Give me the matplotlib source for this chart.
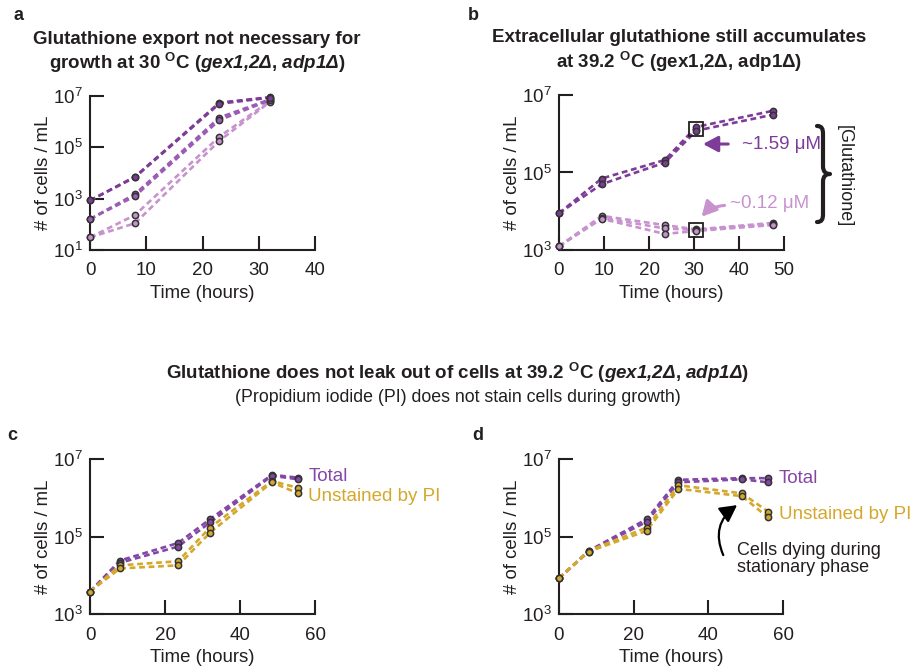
import matplotlib
matplotlib.use("Agg")
import matplotlib.pyplot as plt
import numpy as np
from matplotlib.ticker import NullLocator
from matplotlib.path import Path
from matplotlib.patches import PathPatch

plt.rcParams["font.family"] = ["Liberation Sans", "DejaVu Sans"]
plt.rcParams["mathtext.fontset"] = "custom"
plt.rcParams["mathtext.rm"] = "Liberation Sans"
plt.rcParams["mathtext.it"] = "Liberation Sans:italic"
plt.rcParams["mathtext.bf"] = "Liberation Sans:bold"
plt.rcParams["mathtext.bfit"] = "Liberation Sans:italic:bold"
plt.rcParams["mathtext.default"] = "regular"

INK = "#231f20"
DARK = "#7d3c98"
MID = "#9a5db3"
LIGHT = "#c892cf"
TOTAL = "#8447a6"
GOLD = "#d4a82c"

# panel a: growth at 30 C, three starting densities, two replicates each
time_a = [0, 8, 23, 32]
a_dark = [[850, 7200, 5.5e6, 9.0e6], [850, 6800, 5.0e6, 8.6e6]]
a_mid = [[160, 1500, 1.45e6, 7.4e6], [160, 1250, 1.15e6, 6.9e6]]
a_light = [[31, 230, 2.6e5, 6.4e6], [31, 110, 1.8e5, 5.9e6]]

# panel b: growth at 39.2 C, high and low starting density
time_b = [0, 9.5, 23.5, 30.5, 47.5]
b_high = [[8900, 7.0e4, 2.1e5, 1.5e6, 3.9e6],
          [8900, 5.0e4, 1.8e5, 1.2e6, 3.1e6]]
b_low = [[1250, 7.6e3, 4.4e3, 3.4e3, 5.0e3],
         [1250, 6.8e3, 3.6e3, 3.3e3, 4.6e3],
         [1250, 6.4e3, 2.6e3, 3.1e3, 4.4e3]]
b_box_idx = 3
b_conc = ["~1.59 μM", "~0.12 μM"]

# panel c: total vs PI-unstained cells
time_c = [0, 8, 23.5, 32, 48.5, 55.5]
c_total = [[3800, 2.4e4, 6.8e4, 2.8e5, 3.9e6, 3.3e6],
           [3800, 2.1e4, 5.5e4, 2.3e5, 3.7e6, 3.0e6]]
c_unstained = [[3800, 1.8e4, 2.3e4, 1.7e5, 2.7e6, 1.8e6],
               [3800, 1.5e4, 1.8e4, 1.25e5, 2.5e6, 1.3e6]]

# panel d: total vs PI-unstained cells, into stationary phase
time_d = [0, 8, 23.5, 32, 49, 56]
d_total = [[8400, 4.3e4, 2.8e5, 2.9e6, 3.2e6, 3.2e6],
           [8400, 4.1e4, 2.4e5, 2.5e6, 3.0e6, 2.5e6]]
d_unstained = [[8400, 4.3e4, 1.7e5, 2.1e6, 1.3e6, 4.4e5],
               [8400, 4.1e4, 1.4e5, 1.7e6, 1.1e6, 3.1e5]]

W, H = 916, 667
ARROW = "-|>,head_length=0.6,head_width=0.32"


def px_axes(fig, x0, y_top, x1, y_bot):
    return fig.add_axes([x0 / W, 1 - y_bot / H, (x1 - x0) / W, (y_bot - y_top) / H])


def style_axis(ax, xmax, xstep, ymin):
    ax.set_yscale("log")
    ax.set_xlim(0, xmax)
    ax.set_ylim(10 ** ymin, 1e7)
    ax.set_xticks(np.arange(0, xmax + 1, xstep))
    ax.set_yticks([10.0 ** k for k in range(ymin, 8, 2)])
    ax.yaxis.set_minor_locator(NullLocator())
    for side in ("top", "right"):
        ax.spines[side].set_visible(False)
    for side in ("left", "bottom"):
        ax.spines[side].set_linewidth(1.5)
        ax.spines[side].set_color(INK)
    ax.tick_params(direction="in", length=10, width=1.5, color=INK,
                   labelsize=13.5, labelcolor=INK)
    ax.tick_params(axis="x", pad=9)
    ax.tick_params(axis="y", pad=5)
    ax.set_xlabel("Time (hours)", fontsize=13.4, color=INK, labelpad=4)
    ax.set_ylabel("# of cells / mL", fontsize=13.4, color=INK, labelpad=1)


def draw_reps(ax, t, reps, color):
    for vals in reps:
        ax.plot(t, vals, ls="--", dashes=(2.2, 1.4), lw=1.9, color=color,
                zorder=2, clip_on=False)
    for vals in reps:
        ax.plot(t, vals, ls="none", marker="o", ms=4.5, mfc=color, mec="#333333",
                mew=1.1, zorder=3, clip_on=False)


def brace(fig, x, y_top, y_bot, depth=6, tip=7):
    # curly bracket drawn in figure pixels, opening to the left
    ym = (y_top + y_bot) / 2
    pts = [
        (x - depth, y_top), (x - 1, y_top), (x, y_top + 3), (x, y_top + 8),
        (x, ym - 8), (x, ym - 2), (x + 3, ym), (x + tip, ym),
        (x + 3, ym), (x, ym + 2), (x, ym + 8),
        (x, y_bot - 8), (x, y_bot - 3), (x - 1, y_bot), (x - depth, y_bot),
    ]
    codes = [Path.MOVETO, Path.CURVE4, Path.CURVE4, Path.CURVE4,
             Path.LINETO, Path.CURVE4, Path.CURVE4, Path.CURVE4,
             Path.CURVE4, Path.CURVE4, Path.CURVE4,
             Path.LINETO, Path.CURVE4, Path.CURVE4, Path.CURVE4]
    verts = [(px / W, 1 - py / H) for px, py in pts]
    fig.add_artist(PathPatch(Path(verts, codes), transform=fig.transFigure,
                             fill=False, lw=3.0, edgecolor=INK,
                             capstyle="round", joinstyle="round"))


fig = plt.figure(figsize=(W / 100, H / 100), dpi=100)

# ---- a
ax_a = px_axes(fig, 90, 96, 315, 250)
style_axis(ax_a, 40, 10, 1)
draw_reps(ax_a, time_a, a_light, LIGHT)
draw_reps(ax_a, time_a, a_mid, MID)
draw_reps(ax_a, time_a, a_dark, DARK)

fig.text(197 / W, 1 - 39 / H, "Glutathione export not necessary for",
         fontsize=13.5, fontweight="bold", ha="center", va="center", color=INK)
fig.text(197 / W, 1 - 63 / H,
         r"growth at 30 ${}^{\mathbf{O}}$C ($\mathbfit{gex1{,}2Δ}$, $\mathbfit{adp1Δ}$)",
         fontsize=13.5, fontweight="bold", ha="center", va="center", color=INK)

# ---- b
ax_b = px_axes(fig, 559, 95, 784, 250)
style_axis(ax_b, 50, 10, 3)
draw_reps(ax_b, time_b, b_low, LIGHT)
draw_reps(ax_b, time_b, b_high, DARK)
for reps in (b_high, b_low):
    col = [r[b_box_idx] for r in reps]
    ax_b.plot([time_b[b_box_idx]], [np.exp(np.mean(np.log(col)))], ls="none",
              marker="s", ms=10, mfc="none", mec=INK, mew=1.3, zorder=4,
              clip_on=False)

ax_b.annotate("", xy=(32.0, 10 ** 5.735), xytext=(37.6, 10 ** 5.735),
              arrowprops=dict(arrowstyle=ARROW, color=DARK, lw=2.2,
                              mutation_scale=15, shrinkA=0, shrinkB=0),
              annotation_clip=False)
ax_b.text(40.6, 10 ** 5.735, b_conc[0], fontsize=13.5, color=DARK,
          ha="left", va="center")
ax_b.annotate("", xy=(31.7, 10 ** 3.86), xytext=(36.8, 10 ** 4.15),
              arrowprops=dict(arrowstyle=ARROW, color=LIGHT, lw=2.2,
                              mutation_scale=15, shrinkA=0, shrinkB=0,
                              connectionstyle="arc3,rad=0.2"),
              annotation_clip=False)
ax_b.text(38.0, 10 ** 4.2, b_conc[1], fontsize=13.5, color=LIGHT,
          ha="left", va="center")

brace(fig, 823, 126, 222)
fig.text(844 / W, 1 - 176 / H, "[Glutathione]", fontsize=13, rotation=270,
         ha="center", va="center", color=INK)

fig.text(679 / W, 1 - 38 / H, "Extracellular glutathione still accumulates",
         fontsize=13.5, fontweight="bold", ha="center", va="center", color=INK)
fig.text(679 / W, 1 - 62 / H, r"at 39.2 ${}^{\mathbf{O}}$C (gex1,2Δ, adp1Δ)",
         fontsize=13.5, fontweight="bold", ha="center", va="center", color=INK)

# ---- middle heading
fig.text(458 / W, 1 - 373 / H,
         r"Glutathione does not leak out of cells at 39.2 ${}^{\mathbf{O}}$C ($\mathbfit{gex1{,}2Δ}$, $\mathbfit{adp1Δ}$)",
         fontsize=13.5, fontweight="bold", ha="center", va="center", color=INK)
fig.text(458 / W, 1 - 397 / H,
         "(Propidium iodide (PI) does not stain cells during growth)",
         fontsize=12.8, ha="center", va="center", color=INK)

# ---- c
ax_c = px_axes(fig, 90, 459, 315, 614)
style_axis(ax_c, 60, 20, 3)
draw_reps(ax_c, time_c, c_total, TOTAL)
draw_reps(ax_c, time_c, c_unstained, GOLD)
ax_c.text(0.97, 0.884, "Total", transform=ax_c.transAxes, fontsize=13.5,
          color=TOTAL, ha="left", va="center")
ax_c.text(0.97, 0.756, "Unstained by PI", transform=ax_c.transAxes, fontsize=13.5,
          color=GOLD, ha="left", va="center")

# ---- d
ax_d = px_axes(fig, 559, 459, 783, 614)
style_axis(ax_d, 60, 20, 3)
draw_reps(ax_d, time_d, d_total, TOTAL)
draw_reps(ax_d, time_d, d_unstained, GOLD)
ax_d.text(0.98, 0.871, "Total", transform=ax_d.transAxes, fontsize=13.5,
          color=TOTAL, ha="left", va="center")
ax_d.text(0.98, 0.639, "Unstained by PI", transform=ax_d.transAxes, fontsize=13.5,
          color=GOLD, ha="left", va="center")
ax_d.annotate("", xy=(47.7, 10 ** 5.81), xytext=(44.0, 10 ** 4.52),
              arrowprops=dict(arrowstyle=ARROW, color="black", lw=1.6,
                              mutation_scale=17, shrinkA=0, shrinkB=0,
                              connectionstyle="arc3,rad=-0.4"))
ax_d.text(47.7, 10 ** 4.41, "Cells dying during\nstationary phase", fontsize=13,
          color=INK, ha="left", va="center", linespacing=1.0)

# panel letters
for letter, x, y in (("a", 18, 16), ("b", 473, 16), ("c", 12, 436), ("d", 478, 436)):
    fig.text(x / W, 1 - y / H, letter, fontsize=13, fontweight="bold",
             ha="center", va="center", color=INK)

fig.savefig("out.png", dpi=100)
